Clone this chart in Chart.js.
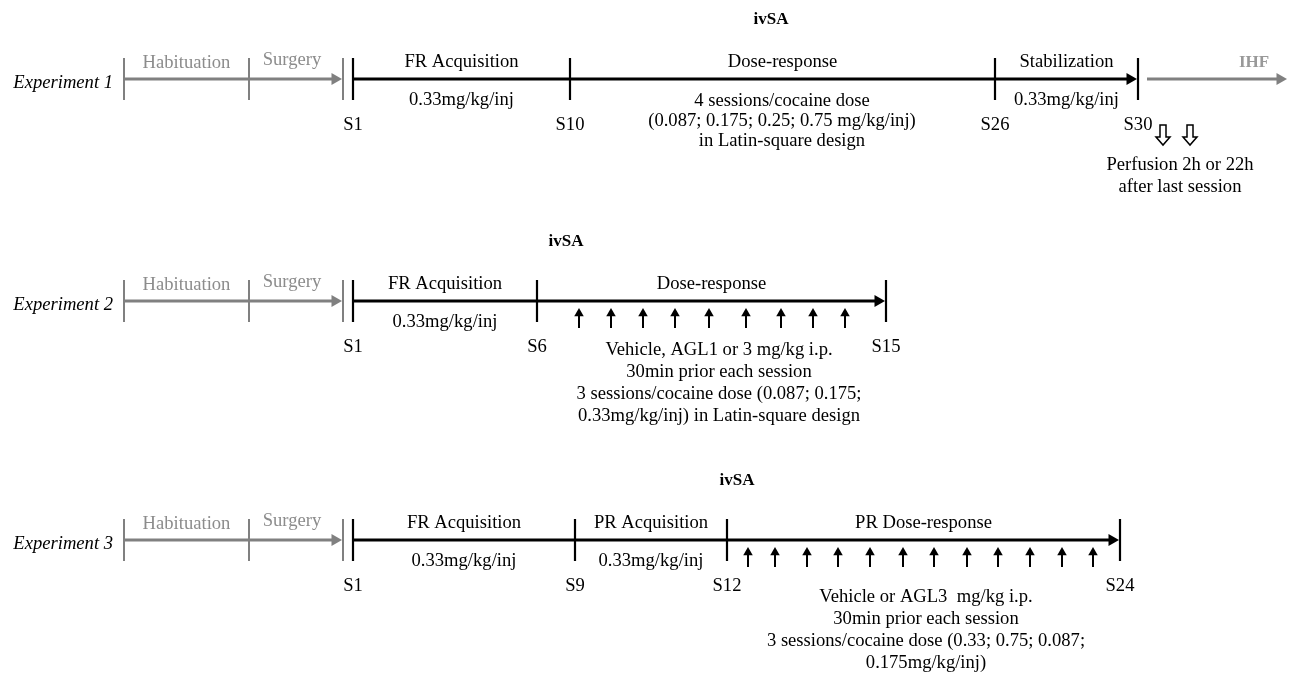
<!DOCTYPE html>
<html>
<head>
<meta charset="utf-8">
<title>ivSA experimental timelines</title>
<script src="https://cdn.jsdelivr.net/npm/chart.js@4"></script>
<style>
  html, body { margin: 0; padding: 0; background: #fff; }
  #wrap { width: 1293px; height: 675px; }
</style>
</head>
<body>
<div id="wrap"><canvas id="timeline" width="1293" height="675"></canvas></div>
<script>
// ---- data: timeline positions are in diagram units along the x axis ----
const experiments = ['Experiment 1', 'Experiment 2', 'Experiment 3'];
const rowLevel = [79, 301, 540];
const prePhases = ['Habituation', 'Surgery'];
const preTicks = [124, 249, 343];

const exp1Sessions = ['S1', 'S10', 'S26', 'S30'];
const exp1SessionPos = [353, 570, 995, 1138];
const exp1Phases = ['FR Acquisition', 'Dose-response', 'Stabilization'];
const exp1Doses = ['0.33mg/kg/inj', '', '0.33mg/kg/inj'];
const exp1Notes = ['4 sessions/cocaine dose', '(0.087; 0.175; 0.25; 0.75 mg/kg/inj)', 'in Latin-square design'];
const exp1Perfusion = [1163, 1190];
const exp1PerfusionNotes = ['Perfusion 2h or 22h', 'after last session'];

const exp2Sessions = ['S1', 'S6', 'S15'];
const exp2SessionPos = [353, 537, 886];
const exp2Phases = ['FR Acquisition', 'Dose-response'];
const exp2Doses = ['0.33mg/kg/inj', ''];
const exp2Injections = [579, 611, 643, 675, 709, 746, 781, 813, 845];
const exp2Notes = ['Vehicle, AGL1 or 3 mg/kg i.p.', '30min prior each session', '3 sessions/cocaine dose (0.087; 0.175;', '0.33mg/kg/inj) in Latin-square design'];

const exp3Sessions = ['S1', 'S9', 'S12', 'S24'];
const exp3SessionPos = [353, 575, 727, 1120];
const exp3Phases = ['FR Acquisition', 'PR Acquisition', 'PR Dose-response'];
const exp3Doses = ['0.33mg/kg/inj', '0.33mg/kg/inj', ''];
const exp3Injections = [748, 775, 807, 838, 870, 903, 934, 967, 998, 1030, 1062, 1093];
const exp3Notes = ['Vehicle or AGL3  mg/kg i.p.', '30min prior each session', '3 sessions/cocaine dose (0.33; 0.75; 0.087;', '0.175mg/kg/inj)'];

const ivsaPos = [771, 566, 737];
const ihfRange = [1147, 1288];

// ---- layout / style ----
const GRAY = '#808080';
const GRAY_TXT = '#8c8c8c';
const BLACK = '#000000';
const SERIF = '"Liberation Serif", "Times New Roman", serif';
const FONT = '18.6px ' + SERIF;
const tickHalf = 21;
const textDrop = 2; // canvas 'middle' baseline sits a little high for this face
const noteAnchor = [[782, 99, 20], [719, 348, 22], [926, 595, 22]]; // x, first line, spacing
const perfusionNoteAnchor = [1180, 163, 22];

const sessionsByExp = [exp1SessionPos, exp2SessionPos, exp3SessionPos];
const sessionNames = [exp1Sessions, exp2Sessions, exp3Sessions];
const phasesByExp = [exp1Phases, exp2Phases, exp3Phases];
const dosesByExp = [exp1Doses, exp2Doses, exp3Doses];
const notesByExp = [exp1Notes, exp2Notes, exp3Notes];
const injectionsByExp = [[], exp2Injections, exp3Injections];

function seg(x1, y1, x2, y2, color, width) {
    return {
        type: 'line',
        data: [{x: x1, y: y1}, {x: x2, y: y2}],
        borderColor: color,
        borderWidth: width,
        borderCapStyle: 'butt',
        pointRadius: 0,
        showLine: true
    };
}

function heads(points, color, radius, rotation) {
    return {
        type: 'scatter',
        data: points,
        pointStyle: 'triangle',
        pointRotation: rotation,
        pointRadius: radius,
        pointBackgroundColor: color,
        pointBorderWidth: 0,
        showLine: false
    };
}

const datasets = [];
const texts = [];

experiments.forEach(function (name, i) {
    const y = rowLevel[i];
    const sp = sessionsByExp[i];
    const last = sp[sp.length - 1];

    // grey pre-phase arrow
    datasets.push(seg(preTicks[0], y, preTicks[2] - 9, y, GRAY, 3));
    datasets.push(heads([{x: preTicks[2] - 8, y: y}], GRAY, 7, 90));
    preTicks.forEach(function (t) {
        datasets.push(seg(t, y - tickHalf, t, y + tickHalf, GRAY, 2));
    });

    // black ivSA arrow
    datasets.push(seg(sp[0], y, last - 9, y, BLACK, 3.2));
    datasets.push(heads([{x: last - 8, y: y}], BLACK, 7, 90));
    sp.forEach(function (t) {
        datasets.push(seg(t, y - tickHalf, t, y + tickHalf, BLACK, 2.2));
    });

    // injection arrows
    injectionsByExp[i].forEach(function (t) {
        datasets.push(seg(t, y + 12, t, y + 27, BLACK, 2));
    });
    if (injectionsByExp[i].length) {
        datasets.push(heads(injectionsByExp[i].map(t => ({x: t, y: y + 12.5})), BLACK, 5.5, 0));
    }

    // texts
    texts.push({text: name, x: 113, y: y + 2, font: 'italic ' + FONT, color: BLACK, align: 'right'});
    prePhases.forEach(function (p, k) {
        texts.push({text: p, x: (preTicks[k] + preTicks[k + 1]) / 2 - (k ? 4 : 0), y: y - (k ? 21 : 18), font: FONT, color: GRAY_TXT});
    });
    phasesByExp[i].forEach(function (p, k) {
        const mid = (sp[k] + sp[k + 1]) / 2;
        texts.push({text: p, x: mid, y: y - 19, font: FONT, color: BLACK});
        if (dosesByExp[i][k]) {
            texts.push({text: dosesByExp[i][k], x: mid, y: y + 19, font: FONT, color: BLACK});
        }
    });
    sessionNames[i].forEach(function (s, k) {
        texts.push({text: s, x: sp[k], y: y + 44, font: FONT, color: BLACK});
    });
    texts.push({text: 'ivSA', x: ivsaPos[i], y: y - 61, font: 'bold 17px ' + SERIF, color: BLACK});
    notesByExp[i].forEach(function (n, k) {
        const a = noteAnchor[i];
        texts.push({text: n, x: a[0], y: a[1] + k * a[2], font: FONT, color: BLACK});
    });
});

// IHF arrow after experiment 1
datasets.push(seg(ihfRange[0], rowLevel[0], ihfRange[1] - 9, rowLevel[0], GRAY, 3));
datasets.push(heads([{x: ihfRange[1] - 8, y: rowLevel[0]}], GRAY, 7, 90));
texts.push({text: 'IHF', x: 1254, y: rowLevel[0] - 18, font: 'bold 17px ' + SERIF, color: '#999999'});
exp1PerfusionNotes.forEach(function (n, k) {
    texts.push({text: n, x: perfusionNoteAnchor[0], y: perfusionNoteAnchor[1] + k * perfusionNoteAnchor[2], font: FONT, color: BLACK});
});

// text + hollow perfusion arrows
const diagramPlugin = {
    id: 'diagramText',
    afterDatasetsDraw(chart) {
        const ctx = chart.ctx;
        const xs = chart.scales.x;
        const ys = chart.scales.y;
        texts.forEach(function (t) {
            ctx.save();
            ctx.font = t.font;
            ctx.fillStyle = t.color;
            ctx.textAlign = t.align || 'center';
            ctx.textBaseline = 'middle';
            ctx.fillText(t.text, xs.getPixelForValue(t.x), ys.getPixelForValue(t.y + textDrop));
            ctx.restore();
        });
        exp1Perfusion.forEach(function (v) {
            const cx = xs.getPixelForValue(v);
            const top = ys.getPixelForValue(rowLevel[0] + 46);
            const bot = ys.getPixelForValue(rowLevel[0] + 66);
            const neck = bot - 8;
            ctx.save();
            ctx.strokeStyle = BLACK;
            ctx.lineWidth = 1.5;
            ctx.beginPath();
            ctx.moveTo(cx - 3, top);
            ctx.lineTo(cx + 3, top);
            ctx.lineTo(cx + 3, neck);
            ctx.lineTo(cx + 7, neck);
            ctx.lineTo(cx, bot);
            ctx.lineTo(cx - 7, neck);
            ctx.lineTo(cx - 3, neck);
            ctx.closePath();
            ctx.stroke();
            ctx.restore();
        });
    }
};

new Chart(document.getElementById('timeline'), {
    type: 'scatter',
    data: { datasets: datasets },
    options: {
        responsive: false,
        devicePixelRatio: 1,
        animation: false,
        events: [],
        layout: { padding: 0, autoPadding: false },
        scales: {
            x: { type: 'linear', min: 0, max: 1293, display: false },
            y: { type: 'linear', min: 0, max: 675, reverse: true, display: false }
        },
        plugins: {
            legend: { display: false },
            tooltip: { enabled: false }
        }
    },
    plugins: [diagramPlugin]
});
</script>
</body>
</html>
